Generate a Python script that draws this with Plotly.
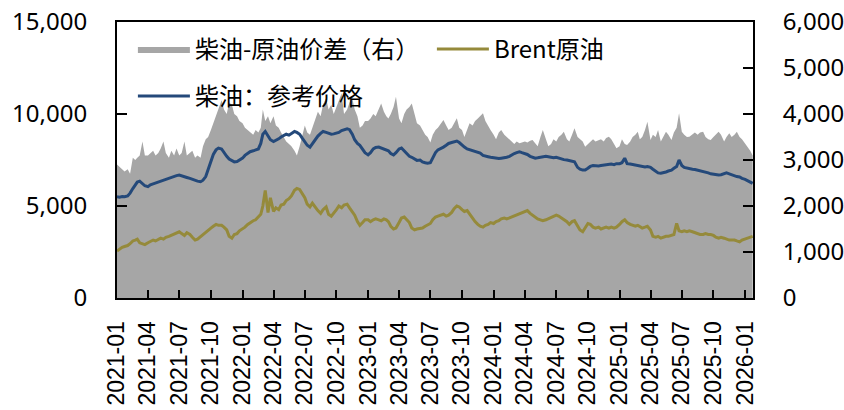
import plotly.graph_objects as go

# ---- data (4 samples per month: days 1, 8, 16, 23) ----
months = [f"{y}-{m:02d}" for y in range(2021, 2026) for m in range(1, 13)] + ["2026-01"]
sample_days = ["01", "08", "16", "23"]
dates = [f"{mo}-{d}" for mo in months for d in sample_days]

diesel_price = [
    5500, 5480, 5520, 5500,  5550, 5700, 5950, 6150,  6300, 6350, 6200, 6100,
    6050, 6150, 6200, 6250,  6300, 6350, 6400, 6450,  6500, 6550, 6600, 6650,
    6680, 6650, 6600, 6550,  6500, 6450, 6380, 6350,  6320, 6400, 6600, 7000,
    7400, 7800, 8050, 8150,  8100, 7900, 7700, 7550,  7450, 7400, 7420, 7500,
    7600, 7750, 7850, 7950,  8000, 8050, 8100, 8400,  8900, 9050, 8800, 8600,
    8500, 8550, 8650, 8750,  8850, 8900, 8850, 8950,  9050, 9000, 8900, 8700,
    8500, 8300, 8200, 8400,  8600, 8800, 8950, 9050,  9000, 8950, 8900, 8920,
    8950, 9000, 9100, 9150,  9200, 9150, 8900, 8600,  8400, 8300, 8100, 7900,
    7780, 7900, 8100, 8180,  8200, 8150, 8100, 8050,  8000, 7850, 7780, 7900,
    8100, 8150, 8000, 7850,  7700, 7650, 7550, 7480,  7500, 7400, 7350, 7320,
    7350, 7600, 7900, 8050,  8120, 8200, 8300, 8400,  8450, 8500, 8530, 8450,
    8300, 8200, 8100, 8050,  8000, 7950, 7900, 7870,  7750, 7700, 7680, 7650,
    7620, 7600, 7580, 7600,  7620, 7650, 7700, 7800,  7850, 7900, 7950, 7900,
    7850, 7800, 7700, 7650,  7600, 7620, 7650, 7680,  7700, 7680, 7650, 7620,
    7650, 7600, 7550, 7520,  7500, 7480, 7450, 7400,  7100, 7000, 6950, 6950,
    7050, 7150, 7200, 7180,  7180, 7200, 7220, 7250,  7250, 7280, 7250, 7300,
    7300, 7350, 7600, 7300,  7280, 7250, 7230, 7200,  7180, 7150, 7120, 7150,
    7100, 7000, 6900, 6800,  6780, 6800, 6850, 6900,  6950, 7050, 7150, 7500,
    7200, 7100, 7080, 7050,  7000, 6980, 6950, 6900,  6880, 6850, 6800, 6750,
    6720, 6700, 6680, 6700,  6780, 6800, 6750, 6700,  6650, 6600, 6580, 6500,
    6450, 6380, 6300, 6230,
]

brent = [
    2550, 2650, 2750, 2800,  2850, 2950, 3100, 3150,  3200, 3000, 2950, 2900,
    3000, 3050, 3150, 3100,  3200, 3250, 3200, 3300,  3350, 3400, 3500, 3550,
    3600, 3500, 3400, 3550,  3450, 3300, 3150, 3200,  3350, 3450, 3550, 3700,
    3800, 3900, 4000, 3950,  3950, 3850, 3700, 3350,  3250, 3450, 3500, 3650,
    3750, 3850, 4000, 4100,  4200, 4250, 4400, 4550,  5000, 5850, 4650, 5450,
    4700, 4900, 4800, 5050,  5100, 5300, 5400, 5550,  5850, 5950, 5900, 5700,
    5450, 5100, 4950, 5150,  4900, 4750, 4600, 4800,  4950, 4550, 4450, 4600,
    4800, 5000, 4900, 5050,  5100, 4900, 4700, 4500,  4150, 3950, 4100, 4250,
    4250, 4150, 4250, 4300,  4250, 4200, 4300, 4250,  4150, 3900, 3750, 3800,
    4100, 4350, 4400, 4250,  4100, 3800, 3700, 3750,  3800, 3800, 3900, 3950,
    4050, 4250, 4400, 4450,  4500, 4550, 4450, 4500,  4650, 4850, 5000, 4950,
    4800, 4700, 4750, 4550,  4300, 4150, 4000, 3900,  3850, 3950, 4000, 4100,
    4050, 4150, 4200, 4300,  4350, 4300, 4350, 4400,  4450, 4500, 4600, 4650,
    4700, 4750, 4600, 4500,  4400, 4300, 4250, 4200,  4250, 4300, 4400, 4450,
    4500, 4450, 4350, 4250,  4150, 4000, 4150, 4200,  3900, 3700, 3600, 3800,
    4050, 4000, 3850, 3800,  3850, 3750, 3800, 3850,  3800, 3850, 3800, 3850,
    4000, 4150, 4250, 4100,  4000, 3950, 3900, 3950,  3900, 3800, 3850, 3900,
    3700, 3350, 3300, 3350,  3250, 3300, 3350, 3350,  3400, 3450, 4050, 3650,
    3600, 3650, 3600, 3650,  3600, 3550, 3500, 3450,  3450, 3500, 3450, 3450,
    3400, 3300, 3250, 3300,  3250, 3200, 3150, 3150,  3150, 3100, 3050, 3150,
    3200, 3250, 3300, 3350,
]

spread = [
    2900, 2850, 2800, 2750,  2800, 2700, 3050, 3000,  3050, 3100, 3400, 3100,
    3100, 3150, 3200, 3100,  3150, 3250, 3400, 3150,  3050, 3200, 3100, 3250,
    3100, 3150, 3400, 3100,  3150, 3200, 3050, 3100,  3050, 3300, 3450, 3500,
    3650, 3800, 3950, 4100,  4300, 4100, 4000, 4250,  4200, 4000, 3950, 3850,
    3800, 3700, 3650, 3600,  3550, 3650, 3600, 3700,  4100, 3850, 3950, 3800,
    3950, 3750, 3700, 3600,  3500, 3400, 3350, 3300,  3200, 3100, 3300, 3500,
    3750, 3600, 3550, 3700,  3900, 4050, 3950, 4200,  4350, 4100, 4200, 4000,
    4150, 4300, 4450, 4000,  4100, 4250, 4340, 4100,  3950, 3700, 3750, 3850,
    3850, 3900, 4000, 3950,  4100, 4230, 4050, 3950,  3900, 4000, 4150, 4375,
    3900, 3800, 4000, 4100,  4150, 4230, 4000, 3800,  3750, 3650, 3550, 3500,
    3380, 3550, 3650, 3700,  3800, 3870, 3750, 3650,  3700, 3800, 3905, 3700,
    3650, 3500, 3650, 3800,  3750, 3850, 3900, 3950,  4015, 3850, 3725, 3650,
    3550, 3450, 3600, 3650,  3550, 3500, 3450, 3400,  3350, 3400, 3365, 3380,
    3400, 3380, 3420, 3435,  3350, 3300, 3500, 3650,  3450, 3300, 3350, 3450,
    3400, 3500, 3550, 3615,  3450, 3400, 3550, 3690,  3500, 3450, 3400, 3290,
    3350, 3400, 3450, 3400,  3420, 3450, 3400, 3480,  3505, 3450, 3350, 3255,
    3300, 3450, 3350, 3325,  3400, 3500, 3550, 3615,  3450, 3500, 3650, 3830,
    3435, 3550, 3500, 3650,  3400, 3500, 3615, 3550,  3435, 3600, 3700, 4015,
    3615, 3550, 3500, 3505,  3550, 3600, 3550, 3600,  3615, 3500, 3450, 3435,
    3500, 3550, 3615, 3550,  3400, 3500, 3580, 3500,  3550, 3615, 3500, 3450,
    3365, 3300, 3200, 3100,
]

# ---- figure ----
TICK_FONT = dict(family="Noto Sans, Noto Sans CJK SC, sans-serif", size=24, color="#000000")
XTICK_FONT = dict(family="Liberation Sans, Arial, sans-serif", size=23, color="#000000")
LEG_FONT = dict(family="Noto Sans CJK SC, sans-serif", size=24, color="#000000")

fig = go.Figure()

fig.add_trace(go.Scatter(
    x=dates, y=spread, name="柴油-原油价差（右）", mode="lines",
    fill="tozeroy", fillcolor="#A6A6A6", line=dict(width=0, color="#A6A6A6"),
    yaxis="y", legend="legend",
))
fig.add_trace(go.Scatter(
    x=dates, y=brent, name="Brent原油", mode="lines",
    line=dict(color="#958A3B", width=3), yaxis="y2", legend="legend",
))
fig.add_trace(go.Scatter(
    x=dates, y=diesel_price, name="柴油：参考价格", mode="lines",
    line=dict(color="#24497A", width=3), yaxis="y2", legend="legend2",
))

axis_common = dict(
    showgrid=False, zeroline=False, showline=True, linecolor="#000000", linewidth=2,
    ticks="inside", tickcolor="#000000", tickwidth=2,
)

fig.update_layout(
    width=844, height=410,
    margin=dict(l=117, r=91, t=22, b=112, autoexpand=False),
    paper_bgcolor="#FFFFFF", plot_bgcolor="#FFFFFF",
    xaxis=dict(
        **axis_common, type="date", range=["2021-01-01", "2026-01-24"],
        tick0="2021-01-01", dtick="M3", tickformat="%Y-%m", tickangle=-90,
        ticklen=8, tickfont=XTICK_FONT, mirror=True, ticklabelstandoff=12,
    ),
    yaxis=dict(
        **axis_common, side="right", range=[0, 6000], dtick=1000,
        tickformat=",d", ticklen=10, tickfont=TICK_FONT, ticklabelstandoff=23,
    ),
    yaxis2=dict(
        **axis_common, side="left", overlaying="y", range=[0, 15000], dtick=5000,
        tickformat=",d", ticklen=10, tickfont=TICK_FONT, ticklabelstandoff=23,
    ),
    legend=dict(
        orientation="h", x=0.025, y=0.982, xanchor="left", yanchor="top",
        bgcolor="rgba(0,0,0,0)", font=LEG_FONT, entrywidth=232, traceorder="normal",
        itemwidth=52,
    ),
    legend2=dict(
        orientation="h", x=0.025, y=0.812, xanchor="left", yanchor="top",
        bgcolor="rgba(0,0,0,0)", font=LEG_FONT, itemwidth=52,
    ),
    showlegend=True,
)

fig.write_html(
    "out.html",
    config={"displayModeBar": False},
    post_script="document.body.style.margin='0';document.body.style.overflow='hidden';",
)
